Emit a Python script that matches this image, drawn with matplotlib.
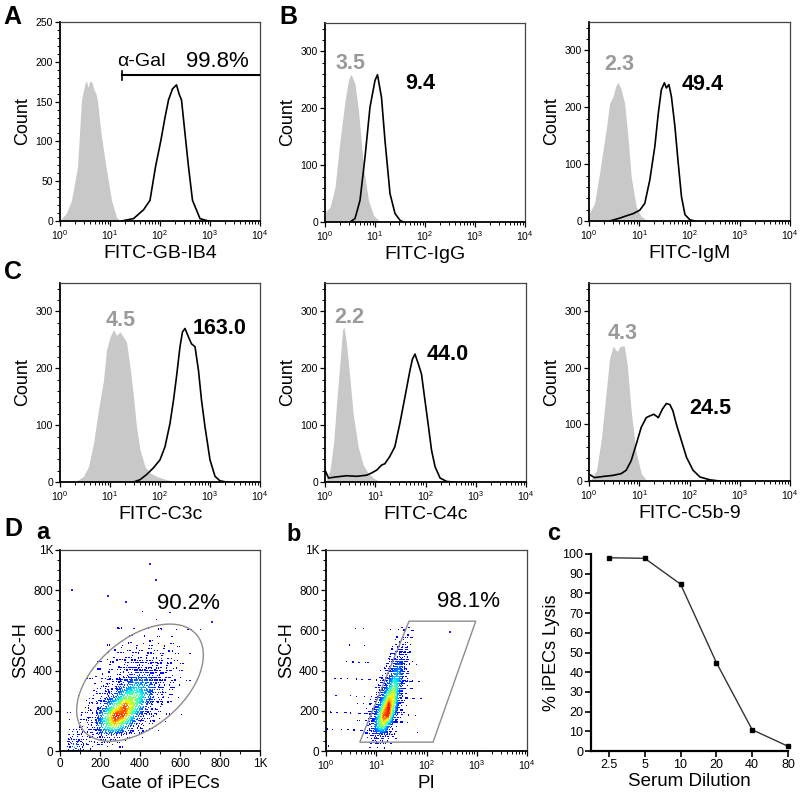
import numpy as np
import matplotlib
matplotlib.use("Agg")
from matplotlib import pyplot as plt
from matplotlib.patches import Ellipse, Polygon
from matplotlib.ticker import MultipleLocator, FixedLocator

plt.rcParams['font.family'] = ['Liberation Sans', 'DejaVu Sans']
plt.rcParams['mathtext.fontset'] = 'custom'
plt.rcParams['mathtext.rm'] = 'Liberation Sans'
plt.rcParams['mathtext.it'] = 'Liberation Sans:italic'
plt.rcParams['mathtext.bf'] = 'Liberation Sans:bold'

# ---- histogram data (x in log10 decades, y = count) ----
ga_x = [0.0, 0.03, 0.13, 0.23, 0.35, 0.39, 0.43, 0.5, 0.53, 0.56, 0.6, 0.64, 0.68, 0.72, 0.75, 0.82, 0.92, 1.03, 1.13, 1.2]
ga_y = [0, 3, 10, 26, 68, 110, 152, 173, 176, 168, 176, 174, 165, 160, 151, 110, 68, 26, 5, 0]
ba_x = [1.23, 1.47, 1.67, 1.8, 1.91, 2.02, 2.1, 2.17, 2.25, 2.33, 2.38, 2.43, 2.5, 2.57, 2.65, 2.8, 2.97]
ba_y = [0, 3, 14, 26, 68, 102, 130, 152, 166, 171, 160, 152, 110, 68, 26, 3, 0]

gb1_x = [0, 0.1, 0.2, 0.3, 0.4, 0.47, 0.52, 0.6, 0.67, 0.77, 0.87, 0.97, 1.07, 1.17]
gb1_y = [17, 26, 61, 143, 213, 250, 260, 243, 196, 96, 38, 12, 3, 0]
bb1_x = [0.5, 0.6, 0.7, 0.8, 0.9, 1.0, 1.05, 1.13, 1.2, 1.3, 1.4, 1.5, 1.57]
bb1_y = [0, 6, 38, 114, 202, 249, 259, 219, 143, 50, 15, 3, 0]

gb2_x = [0.0, 0.11, 0.21, 0.35, 0.41, 0.48, 0.53, 0.58, 0.64, 0.71, 0.78, 0.84, 0.94, 1.04, 1.14, 1.24]
gb2_y = [13, 31, 84, 166, 207, 219, 237, 244, 231, 207, 143, 78, 25, 8, 2, 0]
bb2_x = [0.41, 0.61, 0.74, 0.88, 1.01, 1.11, 1.21, 1.31, 1.38, 1.44, 1.5, 1.54, 1.59, 1.64, 1.71, 1.77, 1.84, 1.91, 2.01, 2.11]
bb2_y = [0, 5, 9, 13, 19, 31, 72, 131, 190, 231, 243, 234, 240, 219, 166, 107, 43, 11, 2, 0]

gc1_x = [0, 0.33, 0.47, 0.57, 0.67, 0.77, 0.87, 0.93, 1.0, 1.07, 1.13, 1.2, 1.27, 1.33, 1.4, 1.47, 1.53, 1.6, 1.7, 1.8, 1.93, 2.13, 2.33, 2.47]
gc1_y = [2, 2, 10, 27, 68, 127, 179, 232, 255, 268, 258, 264, 255, 246, 203, 150, 97, 57, 27, 16, 10, 4, 1, 0]
bc1_x = [1.47, 1.6, 1.73, 1.87, 2.0, 2.1, 2.2, 2.27, 2.33, 2.4, 2.45, 2.5, 2.57, 2.63, 2.7, 2.77, 2.83, 2.9, 3.0, 3.1, 3.2, 3.33]
bc1_y = [0, 4, 13, 25, 39, 62, 103, 144, 185, 238, 264, 270, 255, 243, 238, 196, 144, 97, 39, 10, 2, 0]

gc2_x = [0.03, 0.1, 0.17, 0.23, 0.3, 0.35, 0.38, 0.43, 0.5, 0.56, 0.66, 0.76, 0.86, 0.96, 1.09, 1.19]
gc2_y = [5, 21, 68, 138, 213, 268, 272, 242, 178, 120, 62, 30, 16, 7, 1, 0]
bc2_x = [0, 0.07, 0.23, 0.43, 0.63, 0.83, 0.93, 1.03, 1.13, 1.19, 1.29, 1.39, 1.49, 1.59, 1.69, 1.74, 1.79, 1.86, 1.92, 1.99, 2.06, 2.12, 2.19, 2.29, 2.42, 2.55]
bc2_y = [21, 7, 9, 11, 10, 12, 16, 21, 30, 32, 45, 62, 103, 149, 196, 216, 225, 207, 190, 143, 97, 56, 27, 7, 1, 0]

gc3_x = [0.05, 0.15, 0.25, 0.35, 0.41, 0.48, 0.56, 0.62, 0.7, 0.76, 0.84, 0.93, 1.04, 1.14, 1.24]
gc3_y = [4, 19, 77, 165, 217, 238, 229, 238, 239, 206, 124, 54, 13, 2, 0]
bc3_x = [0, 0.11, 0.28, 0.48, 0.64, 0.74, 0.84, 0.94, 1.04, 1.14, 1.21, 1.29, 1.38, 1.46, 1.54, 1.61, 1.67, 1.74, 1.84, 1.94, 2.07, 2.21, 2.41, 2.6]
bc3_y = [12, 6, 8, 10, 13, 19, 36, 65, 95, 112, 115, 118, 112, 127, 137, 135, 124, 100, 71, 42, 19, 7, 2, 0]

# ---- D a: event counts per cell (rows: SSC-H 0-50,50-100,...; cols: 0-50,50-100,...) ----
da_grid = [
    [0, 45, 8, 3, 4, 2, 1, 0, 0, 0, 0, 0, 0, 0, 0],
    [0, 20, 10, 15, 30, 18, 9, 4, 2, 0, 0, 0, 0, 0, 0],
    [0, 4, 8, 25, 65, 95, 55, 22, 8, 3, 0, 0, 0, 0, 0],
    [0, 2, 6, 18, 65, 115, 105, 50, 18, 6, 2, 0, 0, 0, 0],
    [0, 1, 4, 9, 35, 75, 110, 80, 36, 12, 4, 1, 0, 0, 0],
    [0, 0, 2, 6, 18, 36, 70, 80, 55, 22, 8, 3, 0, 0, 0],
    [0, 0, 1, 4, 9, 18, 36, 55, 50, 30, 12, 4, 1, 0, 0],
    [0, 0, 1, 3, 5, 9, 18, 30, 32, 22, 11, 5, 2, 0, 0],
    [0, 0, 0, 1, 3, 6, 11, 15, 18, 15, 9, 4, 2, 0, 0],
    [0, 0, 0, 1, 2, 4, 6, 8, 9, 9, 6, 3, 1, 0, 0],
    [0, 0, 0, 0, 1, 2, 3, 4, 5, 5, 4, 3, 2, 0, 0],
    [0, 0, 0, 0, 0, 1, 2, 2, 2, 2, 2, 2, 1, 0, 0],
    [0, 0, 0, 0, 0, 1, 0, 0, 1, 2, 1, 0, 1, 0, 1],
    [0, 0, 0, 0, 0, 0, 0, 0, 1, 0, 0, 1, 0, 0, 0],
]
da_out_x = [60, 240, 330, 450, 480, 760]
da_out_y = [800, 770, 740, 930, 850, 640]

# ---- D b: event counts per cell (rows: SSC-H 0-50,...; cols: log10 PI 0-0.1,...) ----
db_grid = [
    [1, 0, 0, 0, 0, 0, 0, 0, 0, 2, 2, 1, 0, 0, 0, 0, 0, 0, 0, 0],
    [1, 0, 1, 0, 1, 0, 1, 1, 6, 18, 22, 12, 5, 2, 0, 0, 0, 0, 0, 0],
    [1, 1, 0, 1, 0, 1, 2, 2, 8, 28, 60, 70, 35, 9, 2, 0, 0, 1, 0, 0],
    [0, 1, 0, 1, 1, 0, 2, 2, 5, 18, 55, 90, 90, 36, 7, 2, 1, 0, 1, 0],
    [1, 0, 1, 1, 0, 2, 1, 2, 3, 7, 30, 70, 95, 65, 18, 3, 1, 1, 0, 1],
    [0, 1, 1, 0, 1, 0, 1, 1, 2, 0, 12, 36, 72, 78, 30, 6, 2, 1, 0, 0],
    [0, 1, 0, 1, 0, 1, 0, 1, 1, 0, 5, 15, 36, 66, 42, 9, 2, 0, 1, 0],
    [0, 0, 1, 0, 1, 0, 1, 0, 1, 0, 0, 6, 18, 42, 48, 15, 2, 1, 0, 0],
    [0, 0, 0, 1, 0, 1, 0, 1, 0, 0, 0, 0, 6, 21, 36, 21, 3, 1, 0, 0],
    [0, 0, 0, 0, 1, 0, 1, 0, 1, 0, 0, 0, 2, 9, 18, 18, 5, 0, 0, 0],
    [0, 0, 0, 0, 0, 1, 0, 1, 0, 0, 0, 0, 0, 3, 7, 11, 4, 0, 0, 0],
    [0, 0, 0, 0, 0, 0, 1, 1, 0, 0, 0, 0, 0, 1, 3, 5, 3, 1, 0, 0],
    [0, 0, 0, 0, 0, 0, 0, 0, 0, 0, 0, 0, 0, 0, 0, 1, 1, 0, 0, 0],
]
db_out_x = [290]
db_out_y = [590]

# ---- D c: lysis curve ----
dilution = [2.5, 5, 10, 20, 40, 80]
lysis = [98.1, 97.8, 84.7, 44.9, 10.8, 2.4]

GRAY_FILL = '#c8c8c8'
GRAY_TXT = '#9a9a9a'

fig = plt.figure(figsize=(8, 7.93), dpi=100)


def box(x, ytop, w, h):
    return [x / 800, 1 - (ytop + h) / 793, w / 800, h / 793]


def style_axes(ax, full=True):
    for s in ['left', 'bottom']:
        ax.spines[s].set_linewidth(1.3)
    if full:
        for s in ['top', 'right']:
            ax.spines[s].set_linewidth(0.9)
            ax.spines[s].set_color('#444444')
    else:
        ax.spines['top'].set_visible(False)
        ax.spines['right'].set_visible(False)
    ax.tick_params(which='major', direction='out', length=3.5, width=0.9, labelsize=7.5, pad=1.5)
    ax.tick_params(which='minor', direction='out', length=2, width=0.7)


def hist_panel(ax, gx, gy, bx, by, ymax, ymajor, yminor, xlabel):
    ax.fill_between(10 ** np.array(gx), gy, color=GRAY_FILL, lw=0)
    ax.plot(10 ** np.array(bx), by, color='black', lw=1.2)
    ax.set_xscale('log')
    ax.set_xlim(1, 1e4)
    ax.set_ylim(0, ymax)
    ax.yaxis.set_major_locator(MultipleLocator(ymajor))
    ax.yaxis.set_minor_locator(MultipleLocator(yminor))
    style_axes(ax)
    ax.set_ylabel('Count', fontsize=13, labelpad=3)
    ax.set_xlabel(xlabel, fontsize=14, labelpad=2)


def num(ax, lx, y, s, color='black'):
    ax.text(10 ** lx, y, s, fontsize=15.5, fontweight='bold', color=color, ha='center', va='center')


# A
axA = fig.add_axes(box(60, 22, 200, 199))
hist_panel(axA, ga_x, ga_y, ba_x, ba_y, 250, 50, 10, 'FITC-GB-IB4')
axA.plot([17, 1e4], [183, 183], color='black', lw=1.5, clip_on=True)
axA.plot([17, 17], [177, 189], color='black', lw=1.2)
axA.text(10 ** 1.63, 200, 'α-Gal', fontsize=14, ha='center', va='center')
axA.text(10 ** 3.15, 200, '99.8%', fontsize=16, ha='center', va='center')

# B
axB1 = fig.add_axes(box(325, 23, 200, 199))
hist_panel(axB1, gb1_x, gb1_y, bb1_x, bb1_y, 350, 100, 20, 'FITC-IgG')
num(axB1, 0.51, 278, '3.5', GRAY_TXT)
num(axB1, 1.91, 243, '9.4')

axB2 = fig.add_axes(box(589, 22, 201, 199))
hist_panel(axB2, gb2_x, gb2_y, bb2_x, bb2_y, 350, 100, 20, 'FITC-IgM')
num(axB2, 0.6, 275, '2.3', GRAY_TXT)
num(axB2, 2.27, 240, '49.4')

# C
axC1 = fig.add_axes(box(60, 283, 200, 199))
hist_panel(axC1, gc1_x, gc1_y, bc1_x, bc1_y, 350, 100, 20, 'FITC-C3c')
num(axC1, 1.21, 284, '4.5', GRAY_TXT)
num(axC1, 3.2, 270, '163.0')

axC2 = fig.add_axes(box(325, 283, 201, 199))
hist_panel(axC2, gc2_x, gc2_y, bc2_x, bc2_y, 350, 100, 20, 'FITC-C4c')
num(axC2, 0.48, 290, '2.2', GRAY_TXT)
num(axC2, 2.45, 225, '44.0')

axC3 = fig.add_axes(box(589, 283, 201, 198))
hist_panel(axC3, gc3_x, gc3_y, bc3_x, bc3_y, 350, 100, 20, 'FITC-C5b-9')
num(axC3, 0.66, 261, '4.3', GRAY_TXT)
num(axC3, 2.42, 129, '24.5')


# density dot plots: each cell's events are spread over (a bit more than) the cell
# with a fixed low-discrepancy pattern; colour follows the local cell density
def grid_events(grid, xstep, ystep):
    g = np.array(grid, dtype=float)
    R, C = g.shape
    fx, fy = [], []
    for r in range(R):
        for c in range(C):
            for k in range(int(g[r, c])):
                j = k + 13 * r + 7 * c
                u = (0.5 + j * 0.7548776662) % 1
                v = (0.5 + j * 0.5698402910) % 1
                fx.append(c - 0.35 + 1.7 * u)
                fy.append(r - 0.35 + 1.7 * v)
    fx = np.clip(np.array(fx), 0, C)
    fy = np.clip(np.array(fy), 0, R)
    # bilinear density at each event (cell centres at +0.5)
    gx = np.clip(fx - 0.5, 0, C - 1)
    gy = np.clip(fy - 0.5, 0, R - 1)
    i0 = np.minimum(gx.astype(int), C - 2)
    j0 = np.minimum(gy.astype(int), R - 2)
    tx = gx - i0
    ty = gy - j0
    d = (g[j0, i0] * (1 - tx) * (1 - ty) + g[j0, i0 + 1] * tx * (1 - ty)
         + g[j0 + 1, i0] * (1 - tx) * ty + g[j0 + 1, i0 + 1] * tx * ty)
    order = np.argsort(d)
    return fx[order] * xstep, fy[order] * ystep, d[order]


def dens_colors(d, nmax):
    t = 0.1 + 0.8 * np.clip(d / nmax, 0, 1) ** 1.9
    return plt.cm.jet(t)


def ssc_axis(ax):
    ax.set_ylim(0, 1000)
    ax.set_yticks([0, 200, 400, 600, 800, 1000])
    ax.set_yticklabels(['0', '200', '400', '600', '800', '1K'])
    ax.yaxis.set_minor_locator(MultipleLocator(50))
    ax.set_ylabel('SSC-H', fontsize=13, labelpad=3)


# D a
axDa = fig.add_axes(box(60, 550, 200, 201))
xs, ys, d = grid_events(da_grid, 50, 50)
axDa.scatter(xs, ys, s=0.8, c=dens_colors(d, 112), marker='s', linewidths=0)
axDa.scatter(da_out_x, da_out_y, s=0.8, c='#2020ff', marker='s', linewidths=0)
axDa.add_patch(Ellipse((400, 340), 740, 440, angle=40, fill=False, edgecolor='#8c8c8c', lw=1))
axDa.set_xlim(0, 1000)
axDa.set_xticks([0, 200, 400, 600, 800, 1000])
axDa.set_xticklabels(['0', '200', '400', '600', '800', '1K'])
axDa.xaxis.set_minor_locator(MultipleLocator(100))
ssc_axis(axDa)
style_axes(axDa)
axDa.tick_params(which='major', labelsize=8.5)
axDa.set_xlabel('Gate of iPECs', fontsize=13.5, labelpad=4)
axDa.text(640, 736, '90.2%', fontsize=16, ha='center', va='center')

# D b
axDb = fig.add_axes(box(326, 550, 201, 201))
xs, ys, d = grid_events(db_grid, 0.1, 50)
axDb.scatter(10 ** xs, ys, s=0.8, c=dens_colors(d, 92), marker='s', linewidths=0)
axDb.scatter(db_out_x, db_out_y, s=0.8, c='#2020ff', marker='s', linewidths=0)
axDb.add_patch(Polygon([(4.7, 44), (135, 44), (955, 646), (45, 646)], closed=True,
                       fill=False, edgecolor='#8c8c8c', lw=1))
axDb.set_xscale('log')
axDb.set_xlim(1, 1e4)
ssc_axis(axDb)
style_axes(axDb)
axDb.tick_params(axis='y', which='major', labelsize=8.5)
axDb.set_xlabel('PI', fontsize=13.5, labelpad=2)
axDb.text(690, 746, '98.1%', fontsize=16, ha='center', va='center')

# D c
axDc = fig.add_axes(box(591, 554, 197, 197))
axDc.plot(dilution, lysis, color='#333333', lw=1, marker='s', markersize=2.8,
          markerfacecolor='black', markeredgecolor='black', clip_on=False)
axDc.set_xscale('log', base=2)
axDc.set_xlim(2.5 / 2 ** 0.5, 80)
axDc.set_ylim(0, 100)
axDc.xaxis.set_major_locator(FixedLocator(dilution))
axDc.xaxis.set_minor_locator(FixedLocator([]))
axDc.set_xticklabels(['2.5', '5', '10', '20', '40', '80'])
axDc.yaxis.set_major_locator(MultipleLocator(10))
style_axes(axDc, full=False)
axDc.spines['left'].set_linewidth(1.6)
axDc.spines['bottom'].set_linewidth(1.6)
axDc.tick_params(which='major', labelsize=9, length=4, width=1.2)
axDc.set_ylabel('% iPECs Lysis', fontsize=13, labelpad=2)
axDc.set_xlabel('Serum Dilution', fontsize=13.5, labelpad=2)


# panel letters
def letter(x, ybase, s, size=18):
    fig.text(x / 800, 1 - ybase / 793, s, fontsize=size, fontweight='bold', va='baseline', ha='left')


letter(3, 24, 'A')
letter(279, 24, 'B')
letter(4, 279, 'C')
letter(4, 536, 'D')
letter(36, 539, 'a', 17)
letter(286, 541, 'b', 17)
letter(547, 540, 'c', 17)

fig.savefig('out.png', dpi=100)
